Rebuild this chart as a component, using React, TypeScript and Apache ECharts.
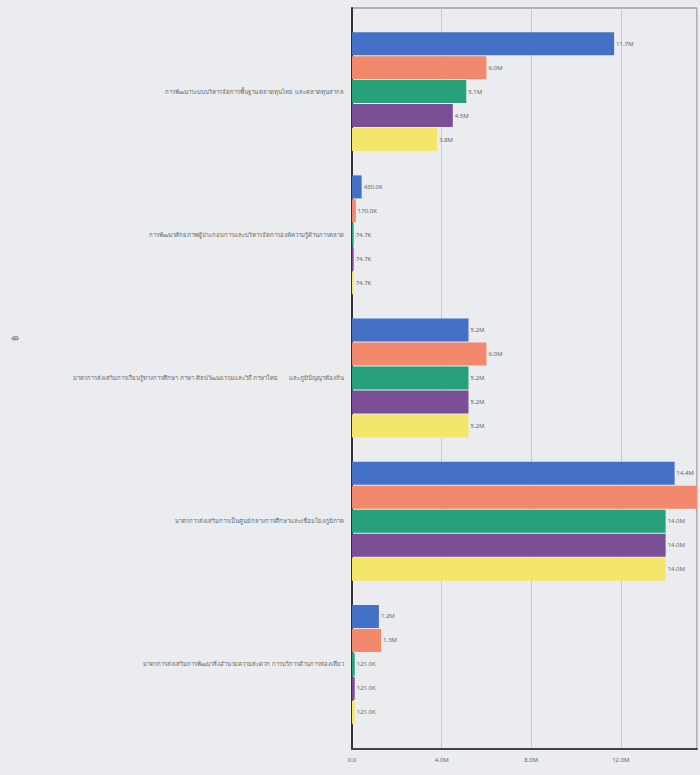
import React, { useEffect, useRef } from "react";
import * as echarts from "echarts";

const categories = [
  "การพัฒนาระบบบริหารจัดการพื้นฐาน ตลาดทุนไทย และตลาดทุนสากล",
  "การพัฒนาศักยภาพผู้ประกอบการและบริหารจัดการองค์ความรู้ด้านการตลาด",
  "มาตรการส่งเสริมการเรียนรู้ทางการศึกษา ภาษา ศิลปวัฒนธรรมและวิถี ภาษาไทย       และภูมิปัญญาท้องถิ่น",
  "มาตรการส่งเสริมการเป็นศูนย์กลางการศึกษาและเชื่อมโยงภูมิภาค",
  "มาตรการส่งเสริมการพัฒนาสิ่งอำนวยความสะดวก การบริการด้านการท่องเที่ยว",
];
const seriesNames = ["2561", "2562", "2563", "2564", "2565"];
const blueValues = [11.7e6, 430.0e3, 5.2e6, 14.4e6, 1.2e6];
const salmonValues = [6.0e6, 170.0e3, 6.0e6, 15.6e6, 1.3e6];
const greenValues = [5.1e6, 74.7e3, 5.2e6, 14.0e6, 121.0e3];
const purpleValues = [4.5e6, 74.7e3, 5.2e6, 14.0e6, 121.0e3];
const yellowValues = [3.8e6, 74.7e3, 5.2e6, 14.0e6, 121.0e3];
const xTickLabels = ["0.0", "4.0M", "8.0M", "12.0M"];

const colors = ["#4470c6", "#f2896c", "#27a07c", "#7a4f95", "#f3e66a"];

const X_MAX = 15.4e6;

function fmt(v: number): string {
  if (v >= 1e6) return (v / 1e6).toFixed(1) + "M";
  return (v / 1e3).toFixed(1) + "K";
}

export default function App() {
  const ref = useRef<HTMLDivElement>(null);
  useEffect(() => {
    if (!ref.current) return;
    const chart = echarts.init(ref.current, undefined, { renderer: "svg" });
    const all = [blueValues, salmonValues, greenValues, purpleValues, yellowValues];
    chart.setOption({
      animation: false,
      backgroundColor: "#ebecf0",
      textStyle: { fontFamily: "'Noto Sans', 'DejaVu Sans', sans-serif" },
      grid: [
        {
          left: 352,
          right: 3,
          top: 8,
          bottom: 26,
          show: true,
          borderColor: "#777",
          borderWidth: 1,
        },
        {
          left: 352,
          right: 3,
          top: 20,
          bottom: 39,
        },
      ],
      xAxis: [
        {
          type: "value",
          gridIndex: 0,
          min: 0,
          max: X_MAX,
          interval: 4e6,
          axisLine: { show: true, lineStyle: { color: "#444", width: 2 } },
          axisTick: { show: false },
          splitLine: { show: true, lineStyle: { color: "#c9cace", width: 1 } },
          axisLabel: {
            fontSize: 6,
            color: "#666",
            margin: 8,
            formatter: (v: number) => {
              const i = Math.round(v / 4e6);
              if (Math.abs(v - i * 4e6) > 1 || i >= xTickLabels.length) return "";
              return xTickLabels[i];
            },
          },
        },
        {
          type: "value",
          gridIndex: 1,
          min: 0,
          max: X_MAX,
          interval: 4e6,
          show: false,
        },
      ],
      yAxis: [
        {
          type: "category",
          gridIndex: 0,
          data: [""],
          axisLine: { show: true, lineStyle: { color: "#333", width: 2 } },
          axisTick: { show: false },
          axisLabel: { show: false },
        },
        {
          type: "category",
          gridIndex: 1,
          data: categories,
          inverse: true,
          axisLine: { show: false },
          axisTick: { show: false },
          axisLabel: { fontSize: 6, color: "#666", margin: 8 },
        },
      ],
      graphic: [
        {
          type: "text",
          left: 10,
          top: 335,
          rotation: Math.PI / 2,
          style: { text: "฿", fontSize: 9, fill: "#777" },
        },
      ],
      series: all.map((vals, i) => ({
        type: "bar",
        name: seriesNames[i],
        xAxisIndex: 1,
        yAxisIndex: 1,
        data: vals.map((v) =>
          v > X_MAX ? { value: v, label: { show: false } } : v
        ),
        barGap: "4%",
        barCategoryGap: "17%",
        itemStyle: { color: colors[i] },
        label: {
          show: true,
          position: "right",
          fontSize: 6,
          color: "#666",
          distance: 2,
          formatter: (p: any) => fmt(p.value),
        },
      })),
    });
    return () => chart.dispose();
  }, []);
  return (
    <div
      ref={ref}
      style={{ position: "absolute", left: 0, top: 0, width: 700, height: 775 }}
    />
  );
}
